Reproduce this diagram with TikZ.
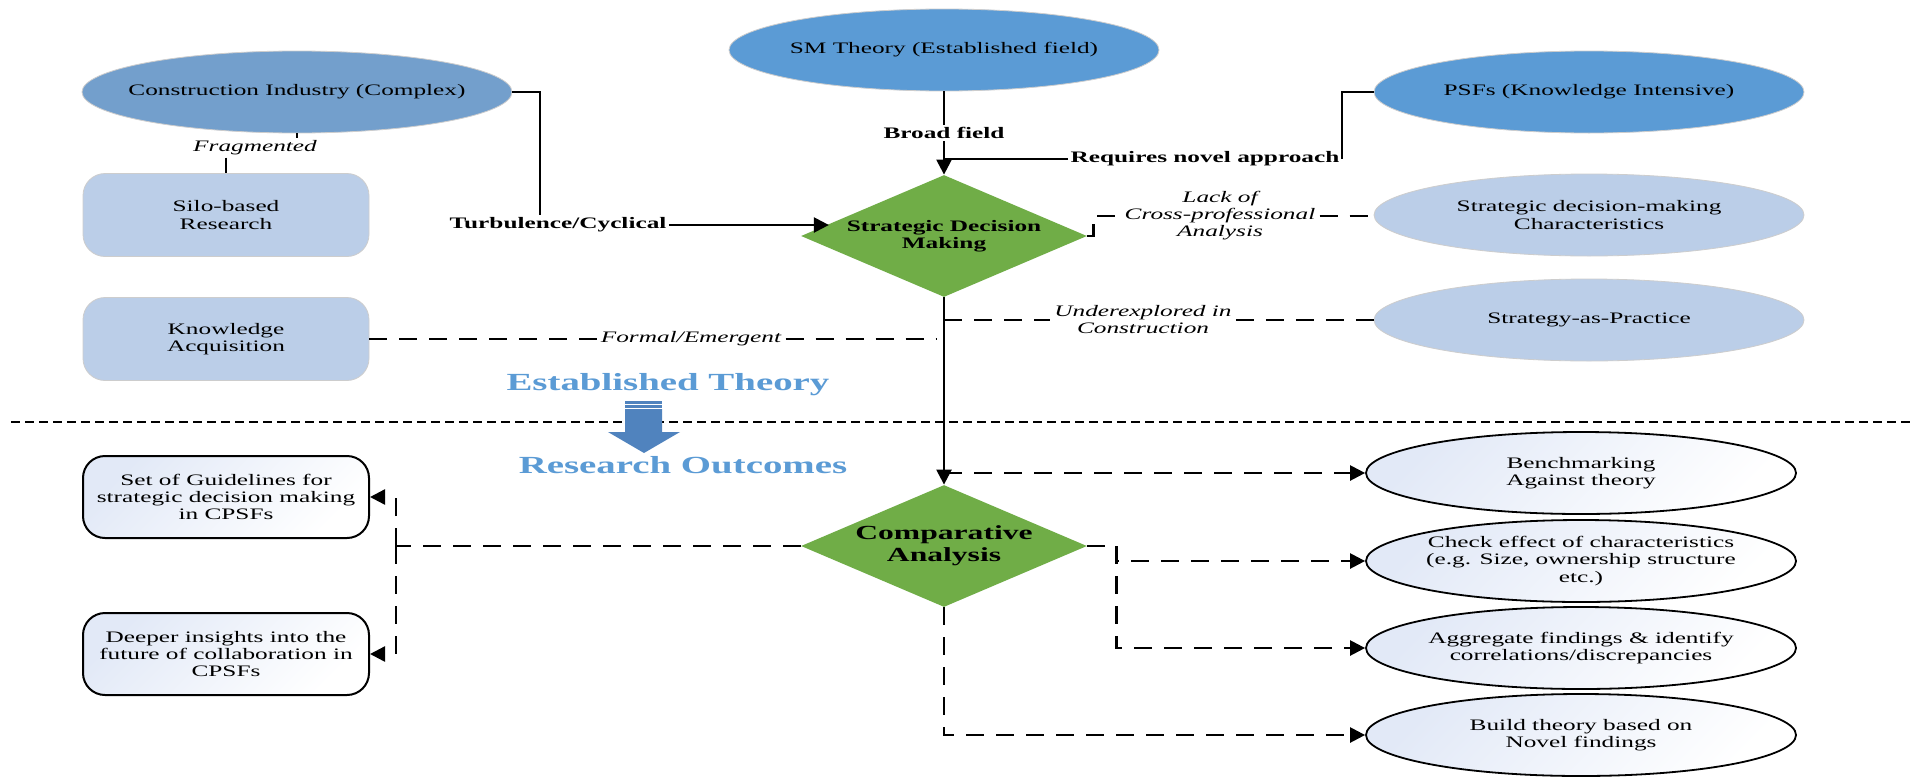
\documentclass[tikz,border=0pt]{standalone}
\usepackage{fontspec}
\setmainfont[FakeStretch=1.58]{Liberation Serif}
\usetikzlibrary{shapes.geometric,arrows.meta,calc}
\definecolor{ciblue}{RGB}{115,159,204}
\definecolor{topblue}{RGB}{91,155,213}
\definecolor{paleblue}{RGB}{187,206,232}
\definecolor{dgreen}{RGB}{112,173,71}
\definecolor{arrowblue}{RGB}{80,131,190}
\definecolor{headblue}{RGB}{91,155,213}
\definecolor{gradblue}{RGB}{226,233,247}
\definecolor{edgegray}{RGB}{205,205,205}

\begin{document}
\begin{tikzpicture}[x=0.5pt,y=-0.5pt,
  every node/.style={align=center},
  txt/.style={font=\fontsize{8}{8.7}\selectfont},
  btxt/.style={font=\fontsize{8}{8.7}\selectfont\bfseries},
  itxt/.style={font=\fontsize{8}{8.5}\selectfont\itshape, inner xsep=2pt, inner ysep=1pt},
  bigtxt/.style={font=\fontsize{12.3}{14}\selectfont\bfseries, text=headblue},
  topell/.style={txt, ellipse, inner xsep=-12pt, inner ysep=0pt, minimum width=215pt,
                 minimum height=41pt, draw=edgegray, line width=0.4pt},
  softbox/.style={txt, rectangle, rounded corners=11pt, inner sep=0pt, minimum width=143pt,
                  minimum height=41.5pt, fill=paleblue, draw=edgegray, line width=0.4pt},
  outbox/.style={txt, rectangle, rounded corners=11pt, inner sep=0pt, minimum width=143pt,
                 minimum height=41pt, draw=black, line width=1pt,
                 top color=gradblue, bottom color=white, shading angle=45},
  outell/.style={txt, ellipse, inner xsep=-4pt, inner ysep=0pt, minimum width=215pt,
                 minimum height=41pt, draw=black, line width=0.9pt,
                 top color=gradblue, bottom color=white, shading angle=45},
  decision/.style={diamond, fill=dgreen, inner sep=0pt, minimum width=143pt,
                   minimum height=61pt, aspect=2.34},
  conn/.style={line width=1.2pt, black},
  dconn/.style={conn, dash pattern=on 9pt off 6pt},
  arr/.style={-{Triangle[length=7.5pt,width=7.5pt]}},
  sepline/.style={line width=0.7pt, dash pattern=on 4.5pt off 2.5pt}
]
\fill[white] (0,0) rectangle (1914,776);
\useasboundingbox (0,0) rectangle (1914,776);

% ---------- upper part: established theory ----------
\node[topell, fill=ciblue]   (ci)  at (297,92)   {Construction Industry (Complex)};
\node[topell, fill=topblue]  (sm)  at (944,50)   {SM Theory (Established field)};
\node[topell, fill=topblue]  (psf) at (1589,92)  {PSFs (Knowledge Intensive)};
\node[topell, fill=paleblue] (sdc) at (1589,215) {Strategic decision-making\\Characteristics};
\node[topell, fill=paleblue] (sap) at (1589,320) {Strategy-as-Practice};

\node[softbox] (silo) at (226,215) {Silo-based\\Research};
\node[softbox] (ka)   at (226,339) {Knowledge\\Acquisition};

\node[decision, btxt] (sdm) at (944,236) {Strategic Decision\\Making};

% connector labels
\node[itxt] (frag) at (255,148)  {Fragmented};
\node[btxt, inner sep=1pt] (turb) at (558,225)  {Turbulence/Cyclical};
\node[btxt, inner sep=1pt] (bf)   at (944,133)  {Broad field};
\node[btxt, inner sep=1pt] (rna)  at (1205,159) {Requires novel approach};
\node[itxt] (lack) at (1220,216) {Lack of\\Cross-professional\\Analysis};
\node[itxt] (und)  at (1143,320) {Underexplored in\\Construction};
\node[itxt] (fe)   at (691,339)  {Formal/Emergent};

% solid connectors
\draw[conn] (ci.south) -- (ci.south |- frag.north);
\draw[conn] (frag.south -| silo.north) -- (silo.north);
\draw[conn] (ci.east) -| ([xshift=-9pt]turb.north);
\draw[conn, arr] (turb.east) -- (turb.east -| sdm.174.6);
\draw[conn] (sm.south) -- (bf.north);
\draw[conn, arr] (bf.south) -- (sdm.north);
\draw[conn] (psf.west) -| (rna.east);
\draw[conn] (rna.west) -- (rna.west -| sdm.north);

% dashed connectors
\draw[dconn] (sdm.east) -- ++(6,0) |- (lack.west);
\draw[dconn] (lack.east) -- (lack.east -| sdc.west);
\draw[dconn] (und.west -| sdm.south) -- (und.west);
\draw[dconn] (und.east) -- (und.east -| sap.west);
\draw[dconn] (ka.east) -- (fe.west);
\draw[dconn] (fe.east) -- ([xshift=-4pt]fe.east -| sdm.south);

% ---------- divider ----------
\coordinate (sepL) at (11,422);
\coordinate (sepR) at (1914,422);
\draw[sepline] (sepL) -- (sepR);

\node[bigtxt] (est) at (668,385) {Established Theory};
\node[bigtxt] (res) at (683,465) {Research Outcomes};
% striped block arrow
\fill[arrowblue] (625,401) rectangle (662,404);
\fill[arrowblue] (625,405.2) rectangle (662,407.8);
\fill[arrowblue] (625,409) -- (662,409) -- (662,432) -- (680,432) -- (644,453)
                 -- (608,432) -- (625,432) -- cycle;

% ---------- lower part: research outcomes ----------
\node[decision, font=\fontsize{10}{11}\selectfont\bfseries] (ca) at (944,546) {Comparative\\Analysis};

\node[outbox] (sg) at (226,497) {Set of Guidelines for\\strategic decision making\\in CPSFs};
\node[outbox] (di) at (226,654) {Deeper insights into the\\future of collaboration in\\CPSFs};

\node[outell] (bm) at (1581,473) {Benchmarking\\Against theory};
\node[outell] (ce) at (1581,561) {Check effect of characteristics\\(e.g. Size, ownership structure\\etc.)};
\node[outell] (ag) at (1581,648) {Aggregate findings \& identify\\correlations/discrepancies};
\node[outell] (bt) at (1581,735) {Build theory based on\\Novel findings};

\draw[conn, arr] (sdm.south) -- (ca.north);
\draw[dconn, arr] (bm.west -| sdm.south) -- (bm.west);

\coordinate (cr) at ($(ca.east)+(29,0)$);
\draw[dconn] (ca.east) -- (cr);
\draw[dconn, arr] (cr) |- (ce.west);
\draw[dconn, arr] (cr) |- (ag.west);
\draw[dconn, arr] (ca.south) |- (bt.west);

\coordinate (cl) at (ca.west -| 396,0);
\draw[dconn] (ca.west) -- (cl);
\draw[dconn, arr] (cl) |- (sg.east);
\draw[dconn, arr] (cl) |- (di.east);
\end{tikzpicture}
\end{document}
